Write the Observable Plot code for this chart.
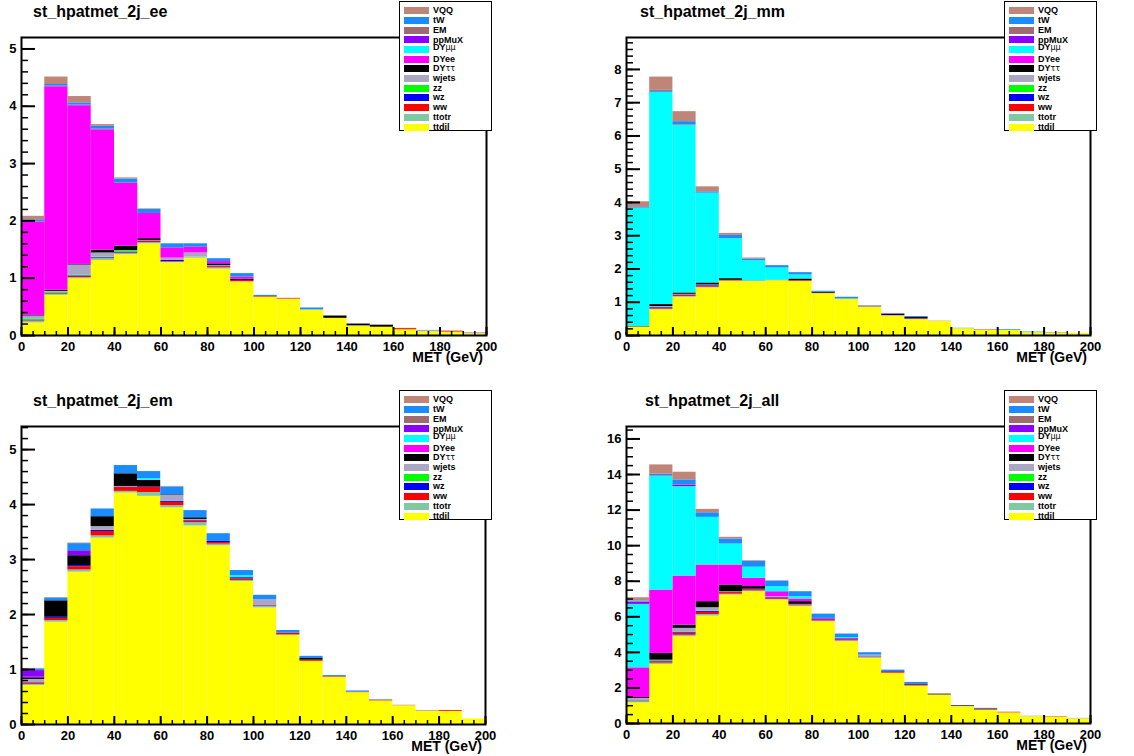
<!DOCTYPE html>
<html><head><meta charset="utf-8">
<script src="https://cdn.jsdelivr.net/npm/d3@7"></script>
<script src="https://cdn.jsdelivr.net/npm/@observablehq/plot@0.6"></script>
<style>
body{margin:0;background:#fff;}
#root{position:relative;width:1134px;height:756px;overflow:hidden;background:#fff;font-family:"Liberation Sans",Arial,Helvetica,sans-serif;color:#000;}
.panel{position:absolute;}
.title{position:absolute;font-weight:bold;font-size:16px;white-space:nowrap;line-height:16px;}
.xlabel{position:absolute;font-weight:bold;font-size:14px;line-height:14px;white-space:nowrap;}
.legend{position:absolute;background:#fff;border:1px solid #000;box-sizing:border-box;width:93px;height:130px;}
.lg-sw{position:absolute;width:25px;height:7px;left:4px;}
.lg-tx{position:absolute;left:33px;font-weight:bold;font-size:9px;line-height:9px;white-space:nowrap;}
.gr{font-weight:normal;font-size:8px;font-family:"DejaVu Sans",sans-serif;}
</style></head>
<body><div id="root"></div>
<script>
// ---- categories ----
const binLow  = [0,10,20,30,40,50,60,70,80,90,100,110,120,130,140,150,160,170,180,190];
const binHigh = [10,20,30,40,50,60,70,80,90,100,110,120,130,140,150,160,170,180,190,200];
// stack order, bottom -> top
const seriesNames  = ["ttdil","ttotr","ww","wz","zz","wjets","DYtt","DYee","DYmm","ppMuX","EM","tW","VQQ"];
const seriesColors = ["#ffff00","#80c8a2","#ff0000","#0000ff","#00ff00","#a9a7c4","#000000","#ff00ff","#00ffff","#8c00ff","#9e6c70","#1a8cff","#bf8577"];
const legendLabels = ["ttdil","ttotr","ww","wz","zz","wjets","DY<span class='gr'>ττ</span>","DYee","DY<span class='gr'>μμ</span>","ppMuX","EM","tW","VQQ"];

// ---- series values: ee channel ----
const ee = {
  ttdil:[0.22,0.70,0.99,1.31,1.41,1.60,1.27,1.35,1.16,0.93,0.67,0.63,0.44,0.30,0.16,0.145,0.10,0.065,0.06,0.03],
  ttotr:[0.03,0.02,0.02,0.03,0.02,0.02,0.01,0.02,0.02,0.01,0,0,0.01,0,0,0,0,0.005,0,0],
  ww:   [0.01,0.01,0.02,0.01,0.01,0.02,0.01,0,0.02,0.02,0.01,0.01,0,0,0,0,0.02,0,0.01,0],
  wz:   [0.01,0.01,0.01,0.01,0.01,0.01,0.02,0,0.01,0,0,0,0,0,0,0,0,0,0,0],
  zz:   [0.02,0.02,0.01,0.01,0.02,0,0,0,0,0,0,0,0,0,0,0,0,0,0,0],
  wjets:[0.05,0.01,0.18,0.07,0.01,0.01,0.04,0.07,0.01,0,0,0,0,0,0.01,0,0,0.02,0,0.02],
  DYtt: [0.01,0.02,0.01,0.05,0.08,0.03,0,0,0.03,0.02,0,0,0,0.04,0.03,0.035,0,0,0,0],
  DYee: [1.63,3.55,2.77,2.10,1.10,0.44,0.18,0.10,0.04,0.04,0,0,0,0,0,0,0,0,0,0],
  DYmm: [0,0,0,0,0,0,0,0,0,0,0,0,0,0,0,0,0,0,0,0],
  ppMuX:[0,0,0,0,0,0,0,0,0,0,0,0,0,0,0,0,0,0,0,0],
  EM:   [0.01,0.01,0.01,0.01,0,0,0,0,0,0,0,0,0,0,0,0,0,0,0,0],
  tW:   [0.03,0.03,0.04,0.05,0.07,0.07,0.07,0.06,0.05,0.06,0.02,0,0.03,0,0,0,0,0,0,0],
  VQQ:  [0.06,0.13,0.11,0.03,0.02,0.01,0,0,0,0,0,0.01,0,0,0,0,0.005,0,0.01,0]
};
// ---- mm channel ----
const mm = {
  ttdil:[0.25,0.77,1.15,1.43,1.63,1.62,1.65,1.62,1.26,1.08,0.85,0.58,0.48,0.42,0.20,0.16,0.15,0.08,0.07,0.06],
  ttotr:[0.01,0.02,0.02,0.02,0.01,0.01,0,0.01,0,0.02,0,0,0,0,0.02,0,0,0.03,0,0],
  ww:   [0,0.03,0.03,0.03,0.02,0.01,0.01,0.02,0.01,0,0.01,0,0.02,0,0,0.01,0,0,0,0],
  wz:   [0,0.02,0.02,0.02,0,0,0,0,0,0,0,0,0.01,0,0,0,0,0,0,0],
  zz:   [0,0.01,0,0,0,0,0,0,0,0,0,0,0,0,0,0,0,0,0,0],
  wjets:[0,0.02,0.02,0.02,0,0,0,0,0,0,0,0.02,0,0,0,0,0.01,0,0.02,0],
  DYtt: [0.02,0.06,0.04,0.06,0.05,0,0,0.05,0.03,0,0,0.03,0.03,0,0,0,0,0,0,0],
  DYee: [0,0,0,0,0,0,0,0,0,0,0,0,0,0,0,0,0,0,0,0],
  DYmm: [3.55,6.38,5.04,2.70,1.20,0.61,0.37,0.12,0,0,0,0,0,0,0,0,0,0,0,0],
  ppMuX:[0,0,0,0,0,0,0,0,0,0,0,0.02,0,0,0,0,0,0,0,0],
  EM:   [0,0.03,0.02,0,0,0,0,0,0,0,0,0,0,0,0,0,0,0,0,0],
  tW:   [0.02,0.03,0.09,0.04,0.10,0.05,0.07,0.07,0.03,0.05,0.02,0,0.03,0,0,0,0.02,0,0,0],
  VQQ:  [0.17,0.40,0.30,0.15,0.06,0.03,0,0,0,0,0.02,0,0,0.01,0,0.01,0,0,0,0]
};
// ---- em channel ----
const em = {
  ttdil:[0.71,1.86,2.77,3.39,4.21,4.15,3.94,3.61,3.25,2.60,2.12,1.62,1.15,0.86,0.58,0.43,0.34,0.24,0.24,0.10],
  ttotr:[0.02,0.03,0.04,0.04,0.03,0.07,0.04,0.06,0.03,0.02,0.03,0.01,0,0,0,0,0,0,0,0],
  ww:   [0.02,0.04,0.06,0.08,0.07,0.09,0.06,0.03,0.03,0.03,0.01,0.03,0.02,0.01,0.01,0.01,0,0,0.015,0],
  wz:   [0.01,0.02,0.02,0.02,0.01,0.01,0.02,0.01,0.02,0.02,0.01,0,0,0,0,0,0,0,0,0],
  zz:   [0,0,0,0,0,0,0,0,0,0,0,0,0,0,0,0,0,0,0,0],
  wjets:[0.06,0,0,0.07,0.01,0,0.11,0.02,0,0,0.10,0,0,0,0,0,0,0,0,0],
  DYtt: [0.03,0.30,0.18,0.18,0.23,0.12,0.01,0.03,0,0,0,0,0.03,0,0,0,0,0,0,0],
  DYee: [0.01,0,0,0,0,0,0,0,0,0,0,0,0,0,0,0,0,0,0,0],
  DYmm: [0,0,0,0,0,0.03,0,0,0,0.04,0,0,0,0,0,0,0,0,0,0],
  ppMuX:[0.12,0,0.09,0,0,0,0,0,0,0,0,0,0,0,0,0,0,0,0,0],
  EM:   [0,0,0,0,0,0,0,0,0,0,0,0,0,0,0,0,0,0.01,0,0],
  tW:   [0.03,0.05,0.13,0.14,0.15,0.13,0.14,0.13,0.14,0.09,0.08,0.05,0.04,0.02,0.02,0.01,0,0,0,0],
  VQQ:  [0.01,0.01,0.01,0,0,0,0.01,0,0,0,0,0,0,0,0,0,0.01,0,0,0]
};
// ---- all channels ----
const all = {
  ttdil:[1.16,3.32,4.88,6.04,7.22,7.41,6.94,6.57,5.72,4.60,3.66,2.82,2.10,1.60,0.94,0.75,0.60,0.38,0.37,0.26],
  ttotr:[0.06,0.07,0.08,0.09,0.05,0.04,0.04,0.05,0.04,0.05,0.05,0.01,0.01,0,0.02,0,0,0.01,0,0],
  ww:   [0.03,0.08,0.12,0.12,0.09,0.07,0.07,0.05,0.05,0.05,0.03,0.04,0.04,0.01,0.02,0.03,0.02,0,0.02,0],
  wz:   [0.02,0.04,0.05,0.05,0.02,0.02,0.03,0.01,0.02,0.02,0.01,0,0.01,0,0,0,0,0,0,0],
  zz:   [0.02,0.03,0.02,0.02,0.02,0,0,0,0,0,0,0,0,0,0,0,0,0,0,0],
  wjets:[0.12,0.02,0.20,0.19,0.01,0.01,0.05,0.02,0,0,0.10,0,0,0,0,0,0,0.02,0,0.03],
  DYtt: [0.05,0.38,0.18,0.34,0.38,0.15,0,0.15,0.03,0.03,0,0.03,0.06,0.04,0.03,0.04,0,0,0,0],
  DYee: [1.67,3.56,2.76,2.06,1.12,0.47,0.28,0.15,0.05,0.03,0,0,0,0,0,0,0,0,0,0],
  DYmm: [3.57,6.38,5.03,2.68,1.18,0.62,0.28,0.13,0,0.05,0,0,0,0,0,0,0,0,0,0],
  ppMuX:[0.12,0,0.09,0,0,0,0,0,0,0,0,0.02,0,0,0,0,0,0,0,0],
  EM:   [0.01,0.04,0.03,0,0,0,0,0,0,0,0,0,0,0,0,0,0,0,0,0],
  tW:   [0.06,0.10,0.26,0.26,0.29,0.32,0.32,0.28,0.24,0.20,0.13,0.08,0.09,0,0,0.03,0,0,0,0],
  VQQ:  [0.18,0.52,0.43,0.19,0.09,0.04,0.01,0,0,0,0,0,0,0,0,0,0.02,0,0,0]
};

// ---- tick labels ----
const xTicks = [0,20,40,60,80,100,120,140,160,180,200];
const eeYTicks = [0,1,2,3,4,5];
const mmYTicks = [0,1,2,3,4,5,6,7,8];
const emYTicks = [0,1,2,3,4,5];
const allYTicks = [0,2,4,6,8,10,12,14,16];

const panels = [
  {title:"st_hpatmet_2j_ee", vals:ee, yTicks:eeYTicks, ymax:5.2, minor:0.2, left:0, top:0, ml:21, mr:81, mt:37, mb:43, tx:33, ty:4, lgx:399, lgy:1},
  {title:"st_hpatmet_2j_mm", vals:mm, yTicks:mmYTicks, ymax:8.96, minor:0.2, left:567, top:0, ml:59, mr:44, mt:37, mb:43, tx:640, ty:4, lgx:1004, lgy:1},
  {title:"st_hpatmet_2j_em", vals:em, yTicks:emYTicks, ymax:5.42, minor:0.2, left:0, top:378, ml:21, mr:82, mt:48, mb:32, tx:33, ty:393, lgx:399, lgy:390},
  {title:"st_hpatmet_2j_all", vals:all, yTicks:allYTicks, ymax:16.7, minor:0.5, left:567, top:378, ml:59, mr:44, mt:48, mb:33, tx:645, ty:393, lgx:1004, lgy:390}
];

const root = document.getElementById("root");
const xMinor = d3.range(0, 200.001, 5);

for (const p of panels) {
  const rows = [];
  seriesNames.forEach(s => p.vals[s].forEach((v, i) => rows.push({series: s, lo: binLow[i], hi: binHigh[i], value: v})));
  const yMinor = d3.range(0, p.ymax, p.minor);
  const chart = Plot.plot({
    width: 567, height: 378,
    marginLeft: p.ml, marginRight: p.mr, marginTop: p.mt, marginBottom: p.mb,
    x: {domain: [0, 200]},
    y: {domain: [0, p.ymax]},
    color: {domain: seriesNames, range: seriesColors},
    style: {background: "transparent", fontFamily: "'Liberation Sans', Arial, sans-serif", color: "black", overflow: "visible"},
    marks: [
      Plot.rectY(rows, {x1: "lo", x2: "hi", y: "value", fill: "series", inset: 0}),
      Plot.axisY(yMinor, {tickSize: -7, strokeWidth: 1.5, tickFormat: () => "", label: null}),
      Plot.axisY(p.yTicks, {tickSize: -14, tickPadding: 19, strokeWidth: 2, fontSize: 13, fontWeight: "bold", label: null, tickFormat: d => String(d)}),
      Plot.axisX(xMinor, {tickSize: -4, strokeWidth: 1.5, tickFormat: () => "", label: null}),
      Plot.axisX(xTicks, {tickSize: -8, tickPadding: 14, strokeWidth: 2, fontSize: 13, fontWeight: "bold", label: null, tickFormat: d => String(d)}),
      Plot.frame({stroke: "black", strokeWidth: 2})
    ]
  });
  chart.classList.add("panel");
  chart.style.left = p.left + "px";
  chart.style.top = p.top + "px";
  root.appendChild(chart);

  const t = document.createElement("div");
  t.className = "title"; t.textContent = p.title;
  t.style.left = p.tx + "px"; t.style.top = p.ty + "px";
  root.appendChild(t);

  const xl = document.createElement("div");
  xl.className = "xlabel"; xl.textContent = "MET (GeV)";
  xl.style.right = (1134 - (p.left + 567 - p.mr) + 3) + "px";
  xl.style.top = (p.top + 378 - p.mb + 15) + "px";
  root.appendChild(xl);

  const lg = document.createElement("div");
  lg.className = "legend";
  lg.style.left = p.lgx + "px"; lg.style.top = p.lgy + "px";
  for (let k = 0; k < seriesNames.length; k++) {
    const row = seriesNames.length - 1 - k; // VQQ at top
    const cy = 8.6 + 9.7 * row;
    const sw = document.createElement("div");
    sw.className = "lg-sw";
    sw.style.background = seriesColors[k];
    sw.style.top = (cy - 3.5) + "px";
    lg.appendChild(sw);
    const tx = document.createElement("div");
    tx.className = "lg-tx";
    tx.innerHTML = legendLabels[k];
    let off = 0;
    if (seriesNames[k] === "ppMuX") off = 1;
    if (seriesNames[k] === "DYmm") off = -2;
    tx.style.top = (cy - 4.5 + off) + "px";
    lg.appendChild(tx);
  }
  root.appendChild(lg);
}
</script>
</body></html>
